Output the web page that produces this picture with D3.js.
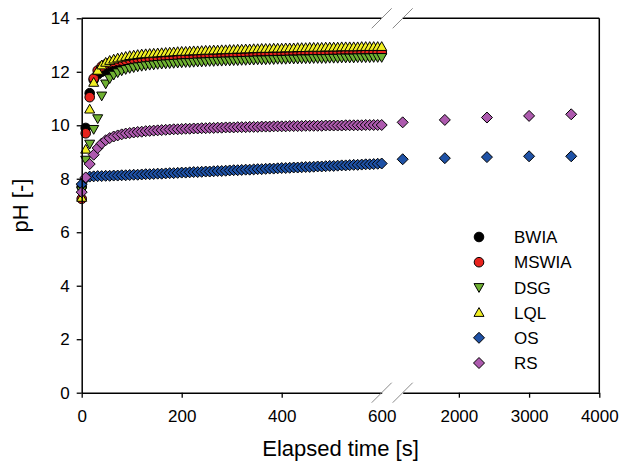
<!DOCTYPE html>
<html>
<head>
<meta charset="utf-8">
<script src="https://cdn.jsdelivr.net/npm/d3@7"></script>
<style>
  html, body { margin: 0; padding: 0; background: #fff; }
  svg { display: block; font-family: "Liberation Sans", Arial, sans-serif; }
</style>
</head>
<body>
<svg id="chart" width="630" height="465"></svg>
<script>
// Sampling times (s) for the first 10 minutes, and the sparse late readings
const times = [0,8,16,24,32,40,48,56,64,72,80,88,96,104,112,120,128,136,144,152,160,168,176,184,192,200,
  208,216,224,232,240,248,256,264,272,280,288,296,304,312,320,328,336,344,352,360,368,376,384,392,400,
  408,416,424,432,440,448,456,464,472,480,488,496,504,512,520,528,536,544,552,560,568,576,584,592,600];
const lateTimes = [1200, 1800, 2400, 3000, 3600];

const seriesNames = ["BWIA", "MSWIA", "DSG", "LQL", "OS", "RS"];

const bwia = [7.70,9.90,11.20,11.70,11.90,12.00,12.06,12.11,12.15,12.19,12.22,12.25,12.28,12.30,12.32,
  12.34,12.36,12.38,12.40,12.41,12.43,12.44,12.45,12.46,12.47,
  12.48,12.49,12.50,12.51,12.52,12.53,12.54,12.54,12.55,12.56,
  12.56,12.57,12.57,12.58,12.58,12.59,12.59,12.60,12.60,12.61,
  12.61,12.62,12.62,12.63,12.63,12.64,12.64,12.64,12.65,12.65,
  12.66,12.66,12.66,12.67,12.67,12.67,12.68,12.68,12.68,12.69,
  12.69,12.69,12.69,12.70,12.70,12.70,12.70,12.71,12.71,12.71,12.71];
const mswia = [7.25,9.70,11.05,11.75,12.05,12.20,12.28,12.33,12.37,12.40,12.42,12.44,12.46,12.48,12.49,
  12.50,12.51,12.52,12.53,12.54,12.55,12.55,12.56,12.57,12.57,
  12.58,12.59,12.59,12.60,12.60,12.61,12.61,12.62,12.62,12.63,
  12.63,12.63,12.64,12.64,12.65,12.65,12.65,12.66,12.66,12.66,
  12.67,12.67,12.67,12.68,12.68,12.68,12.68,12.69,12.69,12.69,
  12.69,12.70,12.70,12.70,12.70,12.71,12.71,12.71,12.71,12.71,
  12.72,12.72,12.72,12.72,12.72,12.73,12.73,12.73,12.73,12.73,12.73];
const dsg = [7.55,8.70,9.30,9.85,10.25,11.10,11.55,11.75,11.88,11.97,12.04,12.09,12.13,12.16,12.19,
  12.21,12.23,12.25,12.26,12.28,12.29,12.30,12.31,12.32,12.33,
  12.34,12.35,12.35,12.36,12.37,12.37,12.38,12.39,12.39,12.40,
  12.40,12.41,12.41,12.42,12.42,12.43,12.43,12.44,12.44,12.45,
  12.45,12.45,12.46,12.46,12.47,12.47,12.47,12.48,12.48,12.48,
  12.49,12.49,12.49,12.50,12.50,12.50,12.50,12.51,12.51,12.51,
  12.52,12.52,12.52,12.52,12.53,12.53,12.53,12.53,12.54,12.54,12.54];
const lql = [7.30,9.10,10.60,11.60,12.05,12.25,12.35,12.42,12.47,12.51,12.54,12.57,12.60,12.62,12.64,
  12.66,12.67,12.68,12.69,12.70,12.71,12.72,12.73,12.74,12.75,
  12.76,12.76,12.77,12.78,12.78,12.79,12.80,12.80,12.81,12.81,
  12.82,12.82,12.83,12.83,12.84,12.84,12.85,12.85,12.86,12.86,
  12.87,12.87,12.87,12.88,12.88,12.88,12.89,12.89,12.89,12.90,
  12.90,12.90,12.91,12.91,12.91,12.91,12.92,12.92,12.92,12.92,
  12.93,12.93,12.93,12.93,12.93,12.94,12.94,12.94,12.94,12.94,12.94];
const os = [7.80,8.02,8.08,8.09,8.10,8.10,8.11,8.11,8.12,8.12,8.13,8.13,8.14,8.15,8.15,
  8.16,8.17,8.17,8.18,8.19,8.19,8.20,8.21,8.21,8.22,
  8.23,8.23,8.24,8.25,8.25,8.26,8.27,8.27,8.28,8.29,
  8.29,8.30,8.31,8.32,8.32,8.33,8.34,8.34,8.35,8.36,
  8.36,8.37,8.38,8.38,8.39,8.40,8.40,8.41,8.42,8.42,
  8.43,8.44,8.44,8.45,8.46,8.46,8.47,8.48,8.48,8.49,
  8.50,8.50,8.51,8.52,8.52,8.53,8.54,8.54,8.55,8.56,8.57];
const osLate = [8.73, 8.77, 8.81, 8.84, 8.84];
const rs = [7.50,8.05,8.55,8.90,9.15,9.32,9.44,9.52,9.58,9.62,9.66,9.69,9.71,9.73,9.75,
  9.76,9.78,9.79,9.80,9.81,9.82,9.83,9.84,9.85,9.85,
  9.86,9.87,9.87,9.88,9.88,9.89,9.89,9.90,9.90,9.91,
  9.91,9.92,9.92,9.92,9.93,9.93,9.93,9.94,9.94,9.94,
  9.95,9.95,9.95,9.96,9.96,9.96,9.96,9.97,9.97,9.97,
  9.97,9.98,9.98,9.98,9.98,9.98,9.99,9.99,9.99,9.99,
  9.99,10.00,10.00,10.00,10.00,10.00,10.01,10.01,10.01,10.01,10.01];
const rsLate = [10.11, 10.20, 10.29, 10.35, 10.41];

const yTicks = [0, 2, 4, 6, 8, 10, 12, 14];
const xTicksLeft = [0, 200, 400, 600];
const xTicksRight = [2000, 3000, 4000];

// Marker style per series
const styles = {
  BWIA:  { shape: "circle",  fill: "#000000" },
  MSWIA: { shape: "circle",  fill: "#e8231d" },
  DSG:   { shape: "triDown", fill: "#6fb132" },
  LQL:   { shape: "triUp",   fill: "#f1ef23" },
  OS:    { shape: "diamond", fill: "#1f52a6" },
  RS:    { shape: "diamond", fill: "#ad5aae" }
};

const series = [
  { name: "BWIA",  early: bwia,  late: [] },
  { name: "MSWIA", early: mswia, late: [] },
  { name: "DSG",   early: dsg,   late: [] },
  { name: "LQL",   early: lql,   late: [] },
  { name: "OS",    early: os,    late: osLate },
  { name: "RS",    early: rs,    late: rsLate }
];

const svg = d3.select("#chart");

// Broken x axis: 0–600 s on the left, 1200–4000 s on the right
const plotTop = 18.3, plotBottom = 392.7;
const xLeft = d3.scaleLinear().domain([0, 600]).range([81.7, 381.7]);
const xRight = d3.scaleLinear().domain([1200, 4000]).range([402.7, 599.3]);
const y = d3.scaleLinear().domain([0, 14]).range([plotBottom, plotTop]);

function markerPath(shape) {
  const p = d3.path();
  if (shape === "circle") {
    p.arc(0, 0, 4.8, 0, 2 * Math.PI);
  } else if (shape === "triDown") {
    p.moveTo(-5, -3.8); p.lineTo(5, -3.8); p.lineTo(0, 5); p.closePath();
  } else if (shape === "triUp") {
    p.moveTo(-5, 3.8); p.lineTo(5, 3.8); p.lineTo(0, -5); p.closePath();
  } else {
    p.moveTo(0, -5.5); p.lineTo(5.5, 0); p.lineTo(0, 5.5); p.lineTo(-5.5, 0); p.closePath();
  }
  return p.toString();
}

// Data markers
const marks = svg.append("g");
series.forEach(s => {
  const st = styles[s.name];
  const pts = s.early.map((v, i) => ({ x: xLeft(times[i]), y: y(v) }))
    .concat(s.late.map((v, i) => ({ x: xRight(lateTimes[i]), y: y(v) })));
  marks.append("g").selectAll("path").data(pts).join("path")
    .attr("d", markerPath(st.shape))
    .attr("transform", d => `translate(${d.x},${d.y})`)
    .attr("fill", st.fill)
    .attr("stroke", "#000")
    .attr("stroke-width", 1);
});

// Axes
const fontSize = 17;
const fmt = d3.format("d");
const yAxis = svg.append("g").attr("transform", `translate(${xLeft(0)},0)`)
  .call(d3.axisLeft(y).tickValues(yTicks).tickFormat(fmt).tickSizeOuter(0).tickSizeInner(5).tickPadding(7));
const xAxisL = svg.append("g").attr("transform", `translate(0,${plotBottom})`)
  .call(d3.axisBottom(xLeft).tickValues(xTicksLeft).tickFormat(fmt).tickSizeOuter(0).tickSizeInner(5).tickPadding(12));
const xAxisR = svg.append("g").attr("transform", `translate(0,${plotBottom})`)
  .call(d3.axisBottom(xRight).tickValues(xTicksRight).tickFormat(fmt).tickSizeOuter(0).tickSizeInner(5).tickPadding(12));
// the 600 label sits on the break, without a tick
xAxisL.selectAll(".tick").filter(d => d === 600).select("line").remove();

[yAxis, xAxisL, xAxisR].forEach(g => {
  g.selectAll("text").attr("font-size", fontSize).attr("fill", "#000")
    .attr("font-family", "'Liberation Sans', Arial, sans-serif");
  g.selectAll("line").attr("stroke", "#000").attr("stroke-width", 1.3);
  g.select(".domain").attr("stroke", "#000").attr("stroke-width", 1.5);
});

// Top and right frame lines
const frame = svg.append("g").attr("stroke", "#000").attr("stroke-width", 1.5).attr("fill", "none");
frame.append("line").attr("x1", xLeft(0)).attr("x2", xLeft(600)).attr("y1", plotTop).attr("y2", plotTop);
frame.append("line").attr("x1", xRight(1200)).attr("x2", xRight(4000)).attr("y1", plotTop).attr("y2", plotTop);
frame.append("line").attr("x1", xRight(4000)).attr("x2", xRight(4000)).attr("y1", plotTop).attr("y2", plotBottom);

// Break marks on the top and bottom edges
const breaks = svg.append("g").attr("stroke", "#8a8a8a").attr("stroke-width", 1);
[xLeft(600), xRight(1200)].forEach(bx => {
  [plotTop, plotBottom].forEach(by => {
    breaks.append("line")
      .attr("x1", bx - 10).attr("y1", by + 10)
      .attr("x2", bx + 10).attr("y2", by - 10);
  });
});

// Axis titles
svg.append("text")
  .attr("x", (xLeft(0) + xRight(4000)) / 2).attr("y", 456)
  .attr("text-anchor", "middle").attr("font-size", 22)
  .text("Elapsed time [s]");
svg.append("text")
  .attr("transform", `translate(28,${(plotTop + plotBottom) / 2}) rotate(-90)`)
  .attr("text-anchor", "middle").attr("font-size", 22)
  .text("pH [-]");

// Legend
const legend = svg.append("g");
series.forEach((s, i) => {
  const st = styles[s.name];
  const ly = 237 + i * 25.2;
  legend.append("path")
    .attr("d", markerPath(st.shape))
    .attr("transform", `translate(479,${ly})`)
    .attr("fill", st.fill).attr("stroke", "#000").attr("stroke-width", 1);
  legend.append("text")
    .attr("x", 514).attr("y", ly).attr("dy", "0.36em")
    .attr("font-size", 17).text(s.name);
});
</script>
</body>
</html>
